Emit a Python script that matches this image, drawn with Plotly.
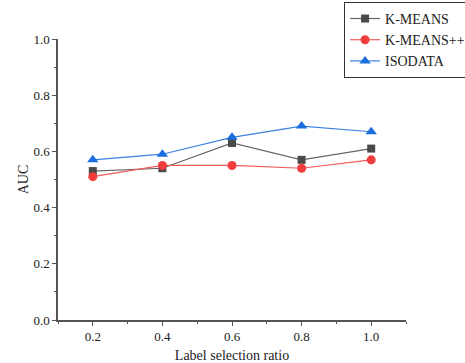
import plotly.graph_objects as go

ratios = [0.2, 0.4, 0.6, 0.8, 1.0]
kmeans = [0.53, 0.54, 0.63, 0.57, 0.61]
kmeanspp = [0.51, 0.55, 0.55, 0.54, 0.57]
isodata = [0.57, 0.59, 0.65, 0.69, 0.67]

fig = go.Figure()
fig.add_trace(go.Scatter(x=ratios, y=kmeans, name="K-MEANS", mode="lines+markers",
                         line=dict(color="#666666", width=1.2),
                         marker=dict(symbol="square", size=8, color="#4a4a4a")))
fig.add_trace(go.Scatter(x=ratios, y=kmeanspp, name="K-MEANS++", mode="lines+markers",
                         line=dict(color="#f05a5a", width=1.2),
                         marker=dict(symbol="circle", size=9, color="#f03c3c")))
fig.add_trace(go.Scatter(x=ratios, y=isodata, name="ISODATA", mode="lines+markers",
                         line=dict(color="#3a82e0", width=1.2),
                         marker=dict(symbol="triangle-up", size=10, color="#1c6ee0")))

font = dict(family="Liberation Serif, Times New Roman, serif", size=13, color="#222222")
fig.update_layout(
    width=465, height=363,
    margin=dict(l=58, r=59, t=39, b=43, autoexpand=False),
    paper_bgcolor="white", plot_bgcolor="white",
    font=font,
    showlegend=True,
    legend=dict(x=0.822, y=1.132, xanchor="left", yanchor="top",
                bordercolor="#333333", borderwidth=1, bgcolor="white",
                font=dict(family="Liberation Serif, serif", size=14, color="#222222"),
                tracegroupgap=0, itemwidth=30),
)
fig.update_xaxes(range=[0.1, 1.1], tickvals=ratios, ticktext=["0.2", "0.4", "0.6", "0.8", "1.0"],
                 automargin=False,
                 showgrid=False, zeroline=False, showline=True, linecolor="#555555", linewidth=1.5,
                 ticks="outside", ticklen=4, tickcolor="#555555",
                 minor=dict(tickvals=[0.1, 0.3, 0.5, 0.7, 0.9, 1.1], ticks="outside", ticklen=2, tickcolor="#555555"),
                 title=dict(text="Label selection ratio", standoff=10, font=dict(size=14)))
fig.update_yaxes(range=[0, 1], tickvals=[0, 0.2, 0.4, 0.6, 0.8, 1.0],
                 ticktext=["0.0", "0.2", "0.4", "0.6", "0.8", "1.0"],
                 automargin=False,
                 showgrid=False, zeroline=False, showline=True, linecolor="#555555", linewidth=1.5,
                 ticks="outside", ticklen=4, tickcolor="#555555",
                 minor=dict(tickvals=[0.1, 0.3, 0.5, 0.7, 0.9], ticks="outside", ticklen=2, tickcolor="#555555"),
                 title=dict(text="AUC", standoff=2, font=dict(size=14)))

fig.write_html("out.html", config={"displayModeBar": False},
               post_script="document.body.style.margin='0';document.body.style.overflow='hidden';")
